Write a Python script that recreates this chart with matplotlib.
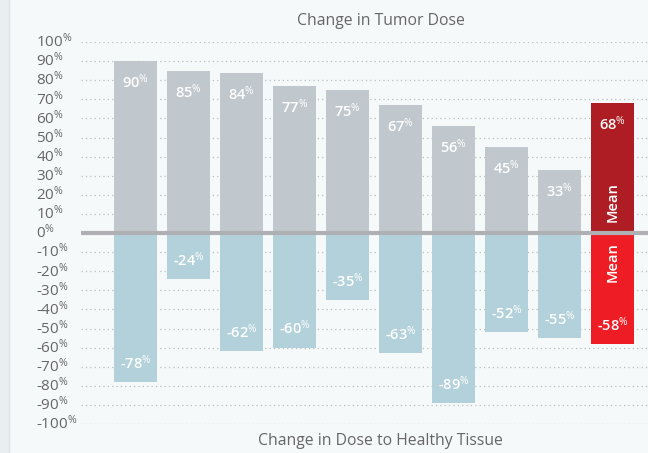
import matplotlib
matplotlib.use("Agg")
import matplotlib.pyplot as plt
from matplotlib.transforms import blended_transform_factory

# values
tumor = [90, 85, 84, 77, 75, 67, 56, 45, 33]
healthy = [-78, -24, -62, -60, -35, -63, -89, -52, -55]
tumor_mean = 68
healthy_mean = -58
yticks = list(range(100, -101, -10))

plt.rcParams['font.family'] = 'Open Sans'
plt.rcParams['mathtext.fontset'] = 'custom'
plt.rcParams['mathtext.rm'] = 'Open Sans'
plt.rcParams['mathtext.it'] = 'Open Sans'
plt.rcParams['mathtext.bf'] = 'Open Sans'

def pct(v):
    return str(v) + r'$^{\%}$'

fig = plt.figure(figsize=(6.48, 4.53), dpi=100)
fig.patch.set_facecolor('#f6f9fa')
# left strip of the page
fig.add_artist(plt.Rectangle((0, 0), 9 / 648, 1, transform=fig.transFigure,
                             color='#e9eef1', zorder=0))
fig.add_artist(plt.Line2D([9 / 648, 9 / 648], [0, 1], transform=fig.transFigure,
                          color='#dde3e7', lw=1))

ax = fig.add_axes([81 / 648, 29 / 453, 1 - 81 / 648, (424 - 42) / 453])
ax.set_facecolor('none')
for s in ax.spines.values():
    s.set_visible(False)
ax.set_xticks([])
ax.set_yticks([])
ax.set_ylim(-100, 100)
ax.set_xlim(-1.03, 9.67)

for y in yticks:
    if y != 0:
        ax.axhline(y, color='#b9bec2', lw=0.9, ls=(0, (1, 2.5)), zorder=0)

w = 0.81
x = list(range(len(tumor)))
ax.bar(x, tumor, width=w, color='#c1c8cd', zorder=1)
ax.bar(x, healthy, width=w, color='#b3d1da', zorder=1)
ax.bar(9, tumor_mean, width=w, color='#ae1c24', zorder=1)
ax.bar(9, healthy_mean, width=w, color='#ee1c24', zorder=1)

ax.axhline(0, color='#aeb0b3', lw=3, zorder=3)

for i, v in enumerate(tumor + [tumor_mean]):
    ax.annotate(pct(v), (i, v), xytext=(0, -15), textcoords='offset points',
                ha='center', va='center', color='white', fontsize=10.5,
                fontweight='semibold', zorder=4)
for i, v in enumerate(healthy + [healthy_mean]):
    ax.annotate(pct(v), (i, v), xytext=(0, 14), textcoords='offset points',
                ha='center', va='center', color='white', fontsize=10.5,
                fontweight='semibold', zorder=4)

ax.text(9, 16, 'Mean', rotation=90, ha='center', va='center', color='white',
        fontsize=10.5, fontweight='semibold', zorder=4)
ax.text(9, -15, 'Mean', rotation=90, ha='center', va='center', color='white',
        fontsize=10.5, fontweight='semibold', zorder=4)

tr = blended_transform_factory(fig.transFigure, ax.transData)
for y in yticks:
    ax.text(36 / 648, y, pct(y), transform=tr, ha='left', va='center',
            color='#666666', fontsize=11)

fig.text(381 / 648, 1 - 21 / 453, 'Change in Tumor Dose', ha='center',
         va='center', color='#666666', fontsize=11.3)
fig.text(380 / 648, 1 - 441 / 453, 'Change in Dose to Healthy Tissue',
         ha='center', va='center', color='#666666', fontsize=11.3)

fig.savefig('out.png', dpi=100, facecolor=fig.get_facecolor())
